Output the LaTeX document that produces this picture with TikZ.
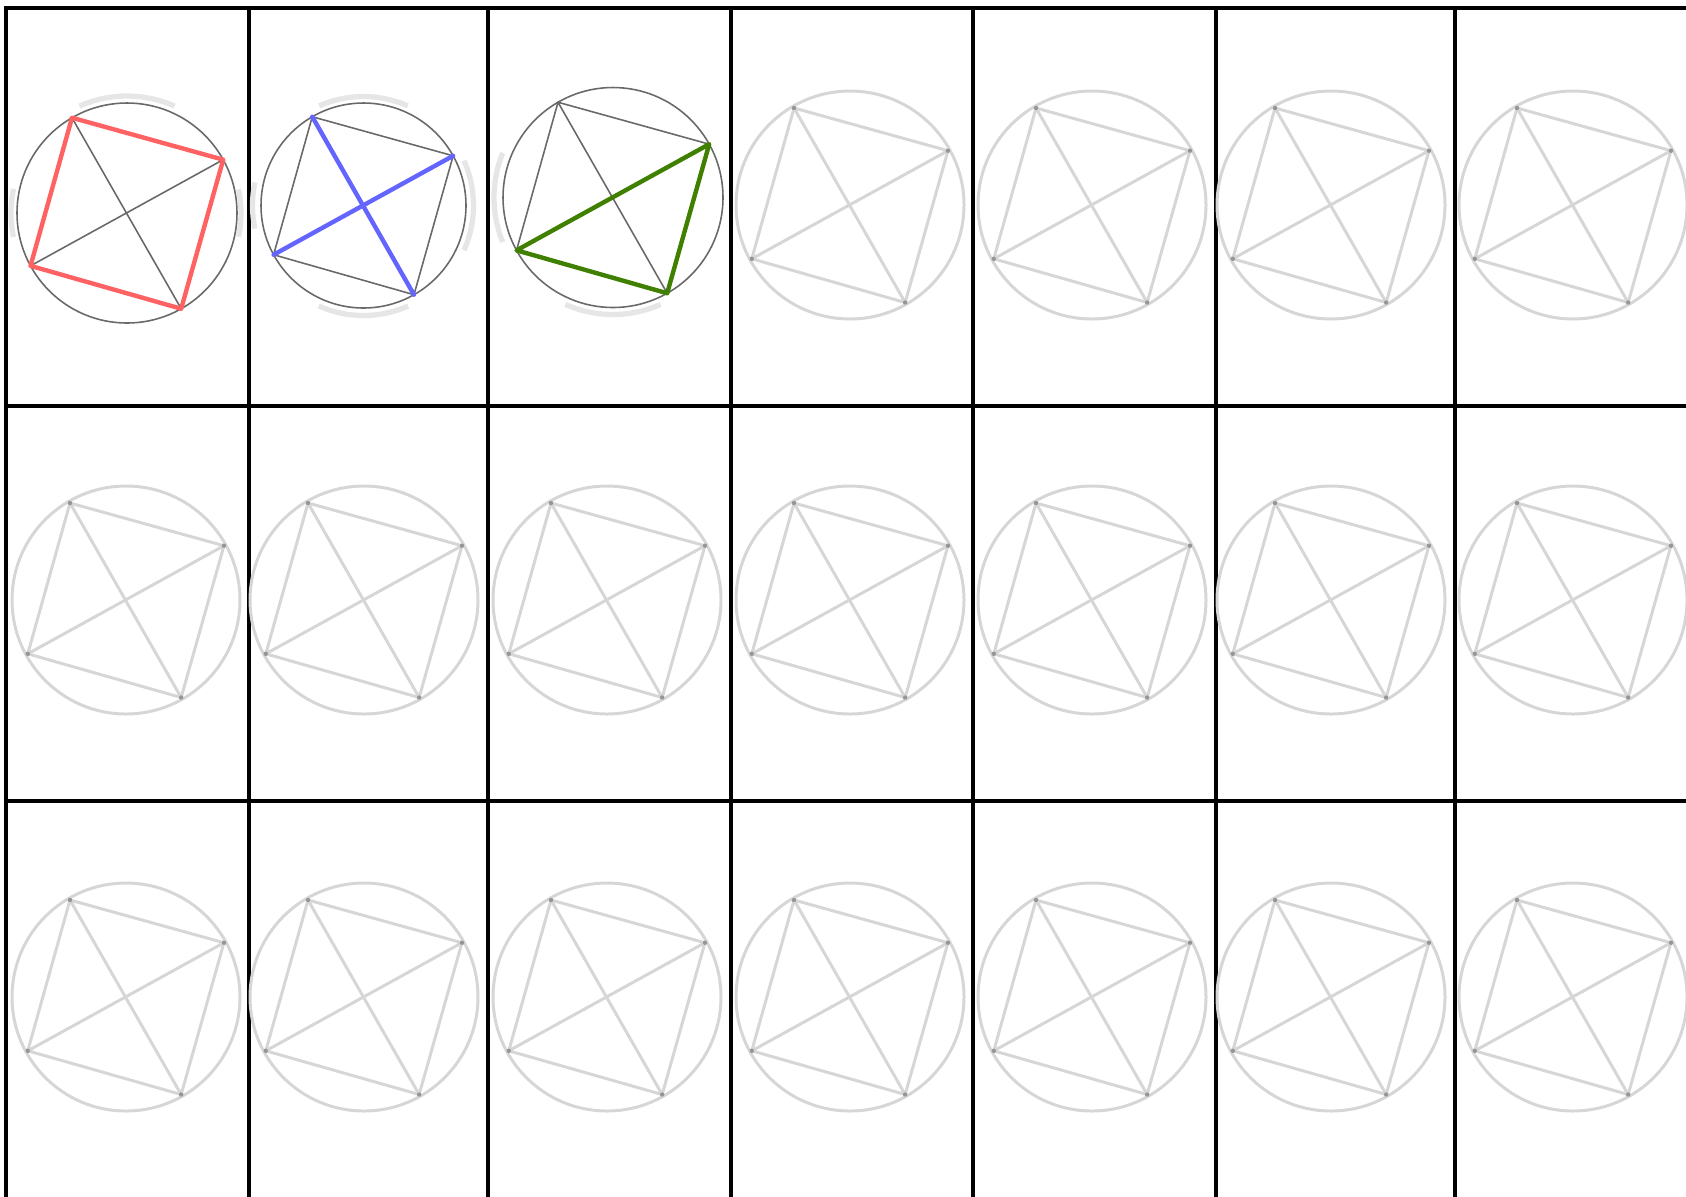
\documentclass[tikz,border=0pt]{standalone}
\usepackage{tikz}

\definecolor{sidered}{RGB}{255,98,98}
\definecolor{diagblue}{RGB}{100,100,255}
\definecolor{trigreen}{RGB}{64,128,0}
\definecolor{ringgray}{RGB}{105,105,105}
\definecolor{fadegray}{RGB}{214,214,214}
\definecolor{ghostgray}{RGB}{230,230,230}
\definecolor{dotgray}{RGB}{150,150,150}

\begin{document}
\begin{tikzpicture}[
    x=0.01cm, y=-0.01cm,
    gridline/.style={line width=1.14pt, black},
    ring/.style={line width=0.45pt, ringgray},
    thinline/.style={line width=0.45pt, ringgray},
    boldline/.style={line width=1.25pt, line cap=round, line join=round},
    faded/.style={line width=0.85pt, fadegray},
    ghost/.style={line width=1.5pt, ghostgray}
]
\useasboundingbox (0,0) rectangle (1686,1196);

% Grid
\foreach \gx in {6,248.5,488,730.5,973,1215.7,1455}
    \draw[gridline] (\gx,6) -- (\gx,1200);
\foreach \gy in {8,405.5,800.5}
    \draw[gridline] (4,\gy) -- (1690,\gy);

% Cell 1: the four sides
\path (127,213) +(-120:110) coordinate (a1) +(-29:110) coordinate (b1)
    +(60.5:110) coordinate (c1) +(151.3:110) coordinate (d1);
\draw[ghost] (127,213) ++(-114:117) arc[start angle=-114,end angle=-66,radius=117];
\draw[ghost] (127,213) ++(168:116) arc[start angle=168,end angle=192,radius=116];
\draw[ghost] (127,213) ++(-12:114) arc[start angle=-12,end angle=12,radius=114];
\draw[ring] (127,213) circle[radius=110];
\draw[thinline] (a1) -- (c1) (b1) -- (d1);
\draw[boldline, sidered] (a1) -- (b1) -- (c1) -- (d1) -- cycle;

% Cell 2: the two diagonals
\path (363.5,205.5) +(-120:102.5) coordinate (a2) +(-29:102.5) coordinate (b2)
    +(60.5:102.5) coordinate (c2) +(151.3:102.5) coordinate (d2);
\draw[ghost] (363.5,205.5) ++(-114:109) arc[start angle=-114,end angle=-66,radius=109];
\draw[ghost] (363.5,205.5) ++(66:110) arc[start angle=66,end angle=114,radius=110];
\draw[ghost] (363.5,205.5) ++(-24:110) arc[start angle=-24,end angle=24,radius=110];
\draw[ghost] (363.5,205.5) ++(168:111) arc[start angle=168,end angle=192,radius=111];
\draw[ring] (363.5,205.5) circle[radius=102.5];
\draw[thinline] (a2) -- (b2) -- (c2) -- (d2) -- cycle;
\draw[boldline, diagblue] (a2) -- (c2) (b2) -- (d2);

% Cell 3: the triangle
\path (613,197.5) +(-120:110) coordinate (a3) +(-29:110) coordinate (b3)
    +(60.5:110) coordinate (c3) +(151.3:110) coordinate (d3);
\draw[ghost] (613,197.5) ++(66:117) arc[start angle=66,end angle=114,radius=117];
\draw[ghost] (613,197.5) ++(158:119) arc[start angle=158,end angle=202,radius=119];
\draw[ring] (613,197.5) circle[radius=110];
\draw[thinline] (d3) -- (a3) -- (b3) (a3) -- (c3);
\draw[boldline, trigreen] (b3) -- (d3) -- (c3) -- cycle;

% Faded cells
\foreach \cx [count=\col] in {126,364,607,850,1092,1331,1573}
  \foreach \cy [count=\row] in {205,600,997} {
    \ifnum\numexpr\row*10+\col\relax>13
      \path (\cx,\cy) +(-120:112) coordinate (p1) +(-29:112) coordinate (p2)
          +(60.5:112) coordinate (p3) +(151.3:112) coordinate (p4);
      \draw[faded] (\cx,\cy) circle[radius=114];
      \draw[faded] (p1) -- (p2) -- (p3) -- (p4) -- cycle (p1) -- (p3) (p2) -- (p4);
      \foreach \p in {p1,p2,p3,p4}
          \fill[dotgray] (\p) circle[radius=2.2];
    \fi
  }

\end{tikzpicture}
\end{document}
